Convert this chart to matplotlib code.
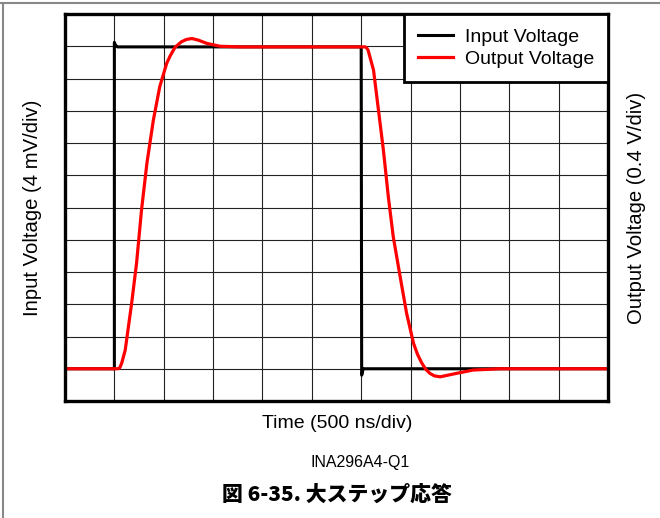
import matplotlib
matplotlib.use("Agg")
import matplotlib.pyplot as plt
from matplotlib.lines import Line2D

# time in divisions (500 ns/div), level in vertical divisions
x_in = [0.0, 1.0, 1.0, 1.02, 1.06, 6.0, 6.01, 6.04, 6.1, 11.0]
y_in = [1.0, 1.0, 11.12, 11.04, 10.98, 10.98, 0.8, 1.0, 1.0, 1.0]

x_out = [0.0, 1.07, 1.11, 1.15, 1.22, 1.35, 1.45, 1.55, 1.66, 1.79, 1.92,
         2.06, 2.13, 2.23, 2.36, 2.46, 2.57, 2.70, 2.87, 3.14, 3.55,
         6.08, 6.11, 6.14, 6.25, 6.35, 6.45, 6.55, 6.65, 6.79, 6.92, 7.06,
         7.14, 7.23, 7.31, 7.39, 7.48, 7.60, 7.94, 8.27, 8.81, 11.0]
y_out = [1.0, 1.0, 1.03, 1.18, 1.58, 3.03, 4.28, 5.92, 7.38, 8.71, 9.75,
         10.47, 10.70, 10.97, 11.14, 11.21, 11.24, 11.19, 11.09, 11.0, 10.98,
         10.98, 10.95, 10.88, 10.26, 9.02, 7.78, 6.33, 5.09, 3.85, 2.72, 1.79,
         1.45, 1.17, 0.98, 0.86, 0.78, 0.75, 0.86, 0.96, 1.0, 1.0]

plt.rcParams['font.family'] = ['Liberation Sans', 'DejaVu Sans']

fig = plt.figure(figsize=(6.6, 5.18), dpi=100)
ax = fig.add_axes([65/660, 1 - 401/518, 543/660, 387/518])

ax.plot(x_in, y_in, color='black', lw=2.2, label='Input Voltage')
ax.plot(x_out, y_out, color='#ff0000', lw=2.3, label='Output Voltage')

ax.set_xlim(0, 11)
ax.set_ylim(0, 12)
ax.set_xticks(range(12))
ax.set_yticks(range(13))
ax.tick_params(length=0, labelbottom=False, labelleft=False)
ax.grid(True, color='#222222', lw=0.8)
for s in ax.spines.values():
    s.set_linewidth(2.4)
    s.set_color('black')

leg = ax.legend(loc='upper right', bbox_to_anchor=(1, 1), borderaxespad=0,
                fontsize=14, fancybox=False, framealpha=1, edgecolor='black',
                handlelength=1.8, handletextpad=0.6, labelspacing=0.25,
                borderpad=0.72)
leg.get_frame().set_linewidth(2.0)

fig.text(0.5114, 1 - 424/518, 'Time (500 ns/div)', ha='center', va='center', fontsize=14)
fig.text(33/660, 0.599, 'Input Voltage (4 mV/div)', rotation=90, ha='center', va='center', fontsize=14.6)
fig.text(637/660, 0.599, 'Output Voltage (0.4 V/div)', rotation=90, ha='center', va='center', fontsize=14.6)
fig.text(360/660, 1 - 462/518, 'INA296A4-Q1', ha='center', va='center', fontsize=11.5)
fig.text(337/660, 1 - 495/518, '図 6-35. 大ステップ応答', ha='center', va='center',
         fontsize=15, fontweight='heavy', family=['Noto Sans CJK JP', 'DejaVu Sans'])

# page frame lines
fig.add_artist(Line2D([0, 1], [1 - 2.5/518, 1 - 2.5/518], color='#888888', lw=1.5))
fig.add_artist(Line2D([3/660, 3/660], [0, 1 - 2.5/518], color='#888888', lw=1.5))

fig.savefig('out.png', dpi=100)
